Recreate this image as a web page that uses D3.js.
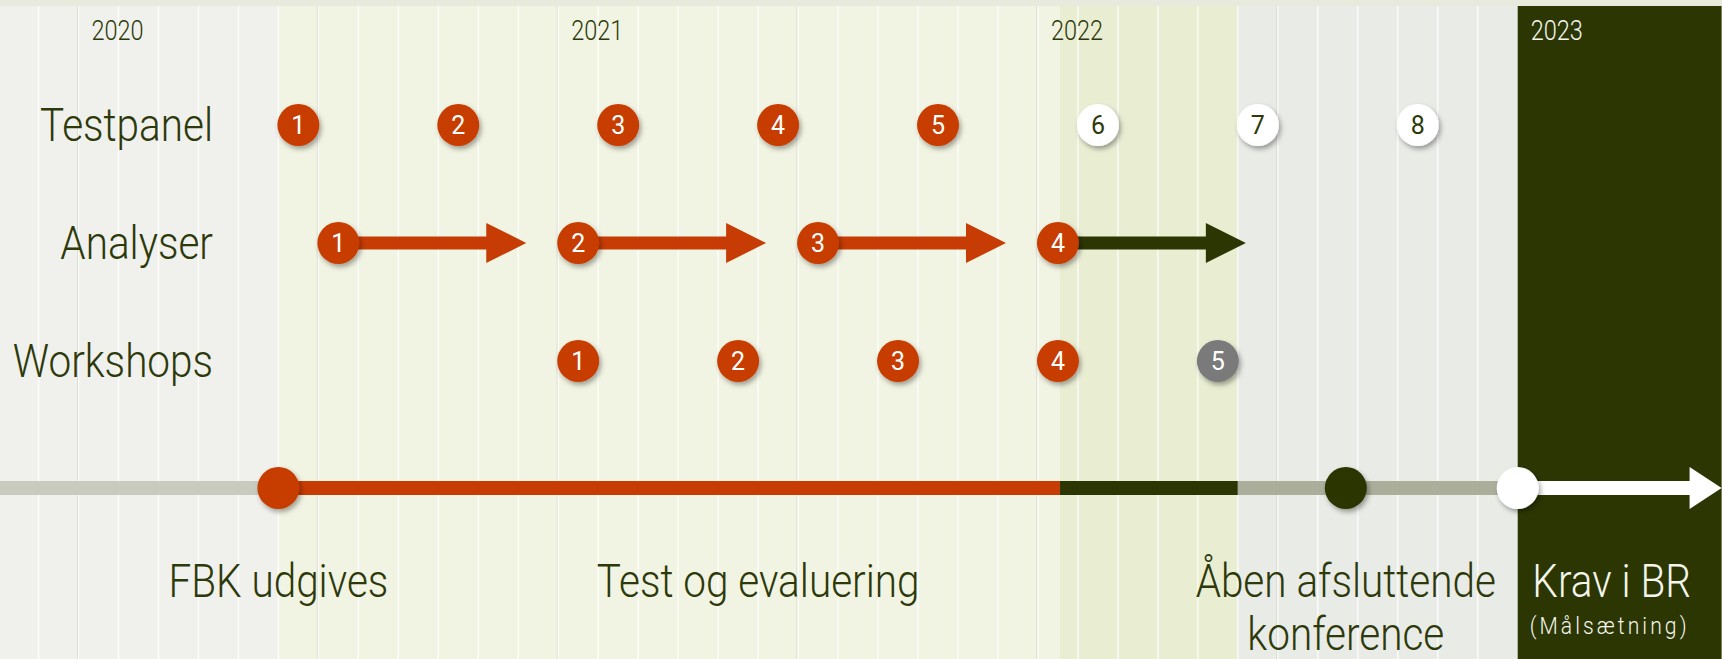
<!DOCTYPE html>
<html>
<head>
<meta charset="utf-8">
<script src="https://cdn.jsdelivr.net/npm/d3@7"></script>
<style>
  html, body { margin: 0; padding: 0; background: #f0f1ec; }
  svg { display: block; }
  .lbl { font-family: Roboto, 'Noto Sans', sans-serif; font-weight: 300; }
  .num { font-family: Roboto, 'Noto Sans', sans-serif; font-weight: 400; }
</style>
</head>
<body>
<div id="root"></div>
<script>
const width = 1722;
const height = 659;

// Data (time in months since Jan 2020)

const years = [2020, 2021, 2022, 2023];
const yearStart = [0, 12, 24, 36];

const phaseStart = [-2, 5, 24.55, 29, 36];
const phaseEnd = [5, 24.55, 29, 36, 41.1];

const rows = ['Testpanel', 'Analyser', 'Workshops'];

const testpanelMonths = [5.5, 9.5, 13.5, 17.5, 21.5, 25.5, 29.5, 33.5];
const testpanelLabels = ['1', '2', '3', '4', '5', '6', '7', '8'];
const testpanelStatus = ['done', 'done', 'done', 'done', 'done', 'plan', 'plan', 'plan'];

const analyserStart = [6.5, 12.5, 18.5, 24.5];
const analyserEnd = [11.2, 17.2, 23.2, 29.2];
const analyserLabels = ['1', '2', '3', '4'];
const analyserStatus = ['done', 'done', 'done', 'now'];

const workshopMonths = [12.5, 16.5, 20.5, 24.5, 28.5];
const workshopLabels = ['1', '2', '3', '4', '5'];
const workshopStatus = ['done', 'done', 'done', 'done', 'grey'];

const timelineStart = [-2, 5, 24.55, 29, 36];
const timelineEnd = [5, 24.55, 29, 36, 41.1];
const timelineStatus = ['before', 'done', 'now', 'after', 'goal'];

const milestoneMonths = [5, 31.7, 36];
const milestoneStatus = ['done', 'now', 'goal'];

const captionTexts = ['FBK udgives', 'Test og evaluering', 'Åben afsluttende', 'konference', 'Krav i BR'];
const captionMonths = [5, 17, 31.7, 31.7, 38.35];
const captionLine = [0, 0, 0, 1, 0];
const goalNote = '(Målsætning)';
const goalNoteMonth = 38.3;

// Colours

const orange = '#c73c04';
const dark = '#2b3603';
const ink = '#2d390a';
const light = '#f4f5ec';
const phaseColors = ['#f0f1ec', '#f1f4e2', '#e9eed3', '#e9ebe6', dark];
const statusFill = { done: orange, plan: '#ffffff', now: dark, grey: '#7a7a7a' };
const statusText = { done: '#ffffff', plan: ink, now: '#ffffff', grey: '#ffffff' };
const lineColors = { before: '#c9cbbf', done: orange, now: dark, after: '#aaae9a', goal: '#ffffff' };
const milestoneFill = { done: orange, now: dark, goal: '#ffffff' };

// narrow the label font to look condensed
const squeeze = 0.88;
const squeezeYear = 0.84;

// Scales

const x = d3.scaleLinear().domain([0, 36]).range([78.5, 1517.7]);
const y = d3.scalePoint().domain(rows).range([125, 361]);
const timelineY = 488;

const svg = d3
  .select('#root')
  .append('svg')
  .attr('width', width)
  .attr('height', height);

const defs = svg.append('defs');
defs
  .append('filter')
  .attr('id', 'shadow')
  .attr('x', '-50%')
  .attr('y', '-50%')
  .attr('width', '200%')
  .attr('height', '200%')
  .append('feDropShadow')
  .attr('dx', 2)
  .attr('dy', 3)
  .attr('stdDeviation', 2.5)
  .attr('flood-color', '#000')
  .attr('flood-opacity', 0.35);

// Phase bands

svg
  .append('g')
  .selectAll('rect')
  .data(phaseStart)
  .enter()
  .append('rect')
  .attr('x', (d) => x(d))
  .attr('y', 0)
  .attr('width', (d, i) => x(phaseEnd[i]) - x(d))
  .attr('height', height)
  .attr('fill', (d, i) => phaseColors[i]);

svg
  .append('rect')
  .attr('x', 0)
  .attr('y', 0)
  .attr('width', width)
  .attr('height', 6)
  .attr('fill', '#e8eadd');

// Month grid

const monthTicks = d3.range(-1, 36);
const grid = svg.append('g');

grid
  .selectAll('line.half')
  .data(monthTicks.filter((m) => m % 6 === 0))
  .enter()
  .append('line')
  .attr('x1', (d) => x(d) - 1)
  .attr('x2', (d) => x(d) - 1)
  .attr('y1', 6)
  .attr('y2', height)
  .attr('stroke', '#d3d6c9')
  .attr('stroke-width', 1);

grid
  .selectAll('line.month')
  .data(monthTicks)
  .enter()
  .append('line')
  .attr('x1', (d) => x(d))
  .attr('x2', (d) => x(d))
  .attr('y1', 6)
  .attr('y2', height)
  .attr('stroke', '#ffffff')
  .attr('stroke-opacity', 0.85)
  .attr('stroke-width', 1.4);

// Year labels

svg
  .append('g')
  .selectAll('text')
  .data(years)
  .enter()
  .append('text')
  .attr('class', 'lbl')
  .attr('transform', (d, i) => `translate(${x(yearStart[i]) + 13},40) scale(${squeezeYear},1)`)
  .attr('font-size', 28)
  .attr('font-weight', 400)
  .attr('fill', (d, i) => (i === 3 ? light : ink))
  .text((d) => d);

// Row labels

svg
  .append('g')
  .selectAll('text')
  .data(rows)
  .enter()
  .append('text')
  .attr('class', 'lbl')
  .attr('transform', (d) => `translate(213,${y(d) + 16}) scale(${squeeze},1)`)
  .attr('text-anchor', 'end')
  .attr('font-size', 46)
  .attr('fill', ink)
  .text((d) => d);

// Badge helper

const r = 21;

function badges(g, months, labels, status, rowY) {
  const b = g
    .selectAll('g.badge')
    .data(months)
    .enter()
    .append('g')
    .attr('transform', (d) => `translate(${x(d)},${rowY})`);

  b.append('circle')
    .attr('r', r)
    .attr('fill', (d, i) => statusFill[status[i]])
    .attr('filter', 'url(#shadow)');

  b.append('text')
    .attr('class', 'num')
    .attr('text-anchor', 'middle')
    .attr('dy', 9)
    .attr('font-size', 25)
    .attr('fill', (d, i) => statusText[status[i]])
    .text((d, i) => labels[i]);
}

// Analyser arrows

const arrowG = svg.append('g');
const shaft = 6.5;
const headHalf = 20;
const headLen = 40;

arrowG
  .selectAll('path')
  .data(analyserStart)
  .enter()
  .append('path')
  .attr('d', (d, i) => {
    const x0 = x(d);
    const x1 = x(analyserEnd[i]);
    const yc = y('Analyser');
    return `M${x0},${yc - shaft}H${x1 - headLen}V${yc - headHalf}L${x1},${yc}L${x1 - headLen},${yc + headHalf}V${yc + shaft}H${x0}Z`;
  })
  .attr('fill', (d, i) => statusFill[analyserStatus[i]]);

badges(svg.append('g'), testpanelMonths, testpanelLabels, testpanelStatus, y('Testpanel'));
badges(svg.append('g'), analyserStart, analyserLabels, analyserStatus.map((s) => (s === 'now' ? 'done' : s)), y('Analyser'));
badges(svg.append('g'), workshopMonths, workshopLabels, workshopStatus, y('Workshops'));

// Timeline

const tl = svg.append('g');
const tlHalf = 7;

tl.selectAll('path')
  .data(timelineStart)
  .enter()
  .append('path')
  .attr('d', (d, i) => {
    const x0 = Math.max(0, x(d));
    const x1 = x(timelineEnd[i]);
    if (timelineStatus[i] === 'goal') {
      const hl = 32;
      const hh = 21;
      return `M${x0},${timelineY - tlHalf}H${x1 - hl}V${timelineY - hh}L${x1},${timelineY}L${x1 - hl},${timelineY + hh}V${timelineY + tlHalf}H${x0}Z`;
    }
    return `M${x0},${timelineY - tlHalf}H${x1}V${timelineY + tlHalf}H${x0}Z`;
  })
  .attr('fill', (d, i) => lineColors[timelineStatus[i]]);

tl.selectAll('circle')
  .data(milestoneMonths)
  .enter()
  .append('circle')
  .attr('cx', (d) => x(d))
  .attr('cy', timelineY)
  .attr('r', 21)
  .attr('fill', (d, i) => milestoneFill[milestoneStatus[i]])
  .attr('filter', 'url(#shadow)');

// Captions

svg
  .append('g')
  .selectAll('text')
  .data(captionTexts)
  .enter()
  .append('text')
  .attr('class', 'lbl')
  .attr('transform', (d, i) => `translate(${x(captionMonths[i])},${597 + captionLine[i] * 53}) scale(${squeeze},1)`)
  .attr('text-anchor', 'middle')
  .attr('font-size', 46)
  .attr('fill', (d, i) => (i === 4 ? light : ink))
  .text((d) => d);

svg
  .append('text')
  .attr('class', 'lbl')
  .attr('transform', `translate(${x(goalNoteMonth)},634) scale(${squeeze},1)`)
  .attr('text-anchor', 'middle')
  .attr('font-size', 24)
  .attr('letter-spacing', 3.5)
  .attr('fill', light)
  .text(goalNote);
</script>
</body>
</html>
